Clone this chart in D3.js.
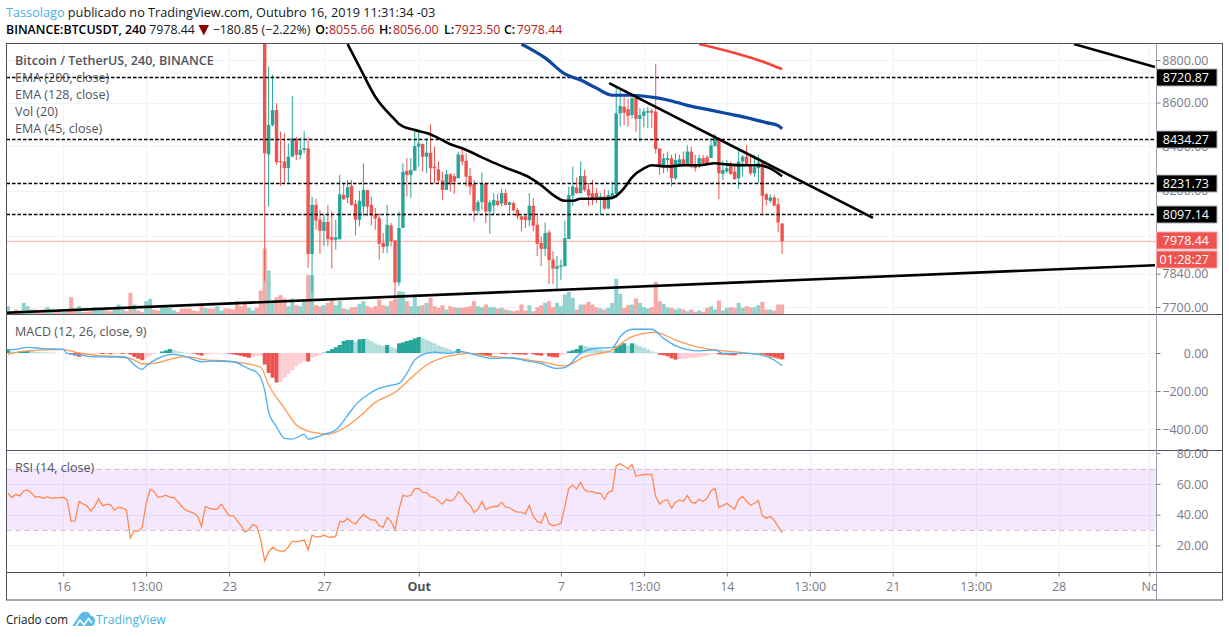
<!DOCTYPE html>
<html><head><meta charset="utf-8">
<script src="https://cdn.jsdelivr.net/npm/d3@7/dist/d3.min.js"></script>
<style>
html,body{margin:0;padding:0;background:#fff;}
svg{display:block;}
text{font-family:"Open Sans","Noto Sans",sans-serif;}
</style></head><body>
<svg id="c" width="1229" height="637"></svg>
<script>
// ---------- DATA ----------
const opens=[9700,8362,8495,8565,8331,8330,8301,8352,8435,8360,8382,8390,7924,8137,8072,8024,8062,7996,7985,7988,8181,8169,8221,8142,8072,8130,8203,8137,8094,8079,7971,7957,8047,7982,7803,8036,8288,8270,8289,8397,8409,8352,8370,8307,8295,8245,8203,8273,8265,8255,8360,8333,8265,8230,8111,8149,8233,8108,8134,8155,8143,8189,8137,8145,8115,8087,8087,8070,8133,8050,7971,7946,8017,7900,7861,7869,7872,7988,8178,8214,8189,8265,8206,8189,8189,8162,8174,8121,8174,8186,8550,8581,8569,8542,8620,8524,8539,8553,8561,8558,8389,8307,8337,8345,8255,8315,8340,8315,8375,8319,8307,8345,8349,8346,8400,8435,8274,8285,8315,8285,8255,8330,8352,8319,8277,8300,8325,8184,8155,8170,8140,8055.66];
const closes=[8367,8496,8565,8327,8327,8301,8352,8435,8360,8382,8390,7924,8137,8068,8024,8062,7988,7985,7996,8184,8162,8215,8137,8072,8155,8203,8130,8091,8077,7968,7954,8050,7978,7803,8036,8284,8270,8292,8400,8412,8352,8370,8300,8300,8245,8203,8273,8228,8240,8362,8330,8262,8218,8111,8149,8230,8108,8148,8159,8137,8189,8137,8148,8113,8087,8072,8070,8133,8046,7968,7946,8014,7898,7861,7872,7875,7992,8181,8218,8189,8265,8203,8177,8162,8162,8174,8121,8181,8189,8550,8584,8553,8538,8620,8524,8542,8558,8561,8553,8386,8315,8345,8345,8255,8337,8340,8310,8375,8307,8300,8345,8322,8322,8403,8439,8277,8292,8300,8274,8251,8330,8352,8319,8277,8304,8325,8177,8159,8170,8134,8060,7978.44];
const highs=[9750,8769,8729,8597,8465,8458,8412,8631,8442,8439,8468,8439,8173,8163,8115,8094,8137,8108,8072,8270,8233,8248,8248,8159,8200,8322,8203,8173,8123,8101,8014,8137,8058,7985,8108,8322,8345,8345,8476,8473,8412,8435,8499,8397,8330,8285,8292,8277,8277,8375,8392,8367,8300,8248,8159,8280,8236,8159,8189,8186,8208,8206,8152,8152,8123,8094,8094,8189,8167,8087,7999,8060,8028,7936,7915,7900,8068,8218,8307,8259,8330,8292,8233,8248,8211,8189,8206,8203,8240,8674,8659,8627,8620,8627,8627,8573,8573,8581,8573,8782,8389,8367,8375,8360,8367,8360,8375,8404,8397,8360,8360,8360,8360,8435,8455,8439,8334,8337,8330,8315,8389,8360,8404,8360,8360,8360,8337,8189,8184,8181,8167,8056];
const lows=[7810,8130,8490,8315,8221,8236,8236,8350,8337,8340,8367,7865,7761,8028,7924,7957,7957,7862,7943,7985,8159,8145,8133,8004,8043,8087,8087,8047,8028,7900,7928,7928,7957,7727,7789,8036,8174,8167,8289,8307,8285,8277,8233,8233,8233,8159,8203,8196,8186,8255,8315,8218,8181,8065,8094,8115,8057,8011,8094,8130,8130,8135,8101,8108,8075,8021,8036,8043,8021,7915,7872,7915,7796,7796,7775,7814,7872,7988,8133,8186,8186,8196,8133,8137,8145,8094,8115,8118,8167,8167,8489,8496,8489,8527,8465,8420,8485,8481,8481,8367,8270,8277,8285,8218,8248,8307,8307,8307,8300,8285,8300,8319,8319,8346,8400,8162,8248,8277,8270,8248,8208,8262,8315,8270,8262,8233,8098,8134,8145,8130,8017,7923.5];

// Volume (hundreds) before the first on-screen candle, with 1 = up bar
const firstBar=-65;
const volumePre=[25,10,15,12,35,25,15,15,12,15,22,15,10,15,8,10,52,15,25,8,8,10,22,18,15,12,10,18,30,15,10,65,30,12,8,40,47,15,12,22,28,20,12,8,18,18,18,12,10,25,20,18,18,25,12,18,18,15,40,25,35,20,12,20,72];
const volumePreUp=[1,0,0,0,1,1,1,0,0,0,1,1,0,0,1,0,0,0,1,0,0,0,1,1,1,0,0,1,1,1,0,0,1,0,0,1,1,0,0,1,1,1,1,0,0,0,0,0,0,0,1,0,0,1,1,0,0,0,0,0,0,1,1,0,0];
const volumePost=[198,132,42,52,58,48,25,48,28,25,45,118,118,28,25,28,35,48,28,40,18,15,22,22,32,40,25,20,25,45,28,25,40,45,70,68,40,25,60,25,28,35,50,25,20,28,15,25,22,20,20,22,25,40,25,22,30,22,22,18,20,15,12,10,12,30,12,28,10,22,28,35,40,22,35,25,60,68,50,15,30,30,38,30,22,18,15,20,35,107,62,20,28,30,48,35,22,18,22,98,40,32,22,20,15,18,15,10,15,8,12,8,20,25,15,42,12,20,22,20,35,20,25,22,22,28,38,15,15,12,30,30];

const ema45Bars=[21,24,28,33,34,38,41,44,47,50,55,59,62,67,70,73,76,78,80,85,88,91,93,96,98,102,106,110,114,117,122,125,128,131];
const ema45Vals=[8876,8767,8627,8520,8501,8473,8459,8436,8408,8390,8349,8317,8295,8259,8224,8181,8155,8155,8164,8164,8168,8211,8259,8299,8313,8308,8313,8313,8322,8317,8313,8313,8299,8264];
const ema128Bars=[65,71,76,80,84,88,93,98,102,107,112,117,122,127,130,131];
const ema128Vals=[8876,8810,8734,8705,8667,8634,8634,8625,8612,8587,8568,8549,8530,8507,8493,8479];
const ema200Bars=[110,119,127,131];
const ema200Vals=[8876,8833,8786,8757];

const hLevels=[8720.87,8434.27,8231.73,8097.14];
const lastPrice=7978.44;
const countdown="01:28:27";
const trendLines=[[[-65.5,7676],[225.4,7876]],[[204.9,8876],[225.4,8767]],[[87.2,8691],[154,8080]]];

const macdBars=[-65,-63,-60,-56,-51,-50,-47,-44,-38,-35,-33,-31,-30,-27,-23,-20,-16,-13,-8,-4,-2,0,1,3,5,7,10,11,15,18,22,23,26,28,31,34,36,38,41,43,47,49,52,55,58,62,66,70,74,76,80,84,88,90,93,98,101,104,110,114,116,122,125,129,131];
const macdVals=[16,19,30,23,19,-2,-10,-19,-21,-25,-63,-86,-68,-28,-7,-19,-46,-42,-46,-84,-102,-195,-309,-388,-449,-453,-428,-453,-428,-405,-300,-274,-221,-195,-174,-160,-107,-37,-2,4,-2,10,-2,-19,-28,-25,-40,-56,-81,-77,-2,25,28,86,125,125,77,39,11,16,-2,-2,-7,-37,-67];
const signalBars=[-65,-61,-51,-48,-42,-36,-33,-31,-27,-23,-20,-16,-8,-1,1,5,8,12,16,20,24,28,33,37,41,46,52,58,64,71,76,81,88,93,99,104,110,114,121,125,131];
const signalVals=[-7,10,19,4,-14,-19,-37,-58,-51,-28,-19,-33,-46,-75,-168,-291,-379,-417,-428,-396,-335,-260,-207,-133,-63,-19,-2,-19,-28,-51,-68,-19,16,86,109,68,30,16,2,-7,-33];
const macdHist=[20,8,6,8,10,12,10,6,5,4,3,2,1,0,0,-1,-8,-14,-20,-16,-10,-6,-5,-4,-6,-3,-6,-5,-4,-5,-3,-8,-20,-30,-38,-25,-15,-5,0,8,14,21,14,9,5,2,-1,-3,-8,-14,-8,-6,-5,-4,-3,-2,-4,-7,-11,-15,-20,-25,-20,-15,-14,
-60,-105,-130,-155,-150,-130,-110,-90,-70,-55,-40,-45,-25,-18,-10,2,10,20,30,42,63,68,68,60,72,74,72,63,51,42,38,42,32,25,51,56,63,68,77,84,77,68,60,51,39,32,25,18,11,21,11,5,0,-7,-7,-12,-14,-14,-7,-5,-5,-7,-5,-5,-7,-7,-9,-5,-7,-12,-14,-5,-18,-22,-23,-12,-5,9,14,21,40,37,32,28,25,18,14,12,9,35,42,51,40,51,44,35,28,18,9,3,-9,-12,-18,-28,-35,-32,-30,-28,-26,-25,-20,-18,-14,-7,-3,-7,-9,-9,-12,-12,-7,-5,-4,-3,-3,-3,-7,-12,-16,-21,-26,-33];
const rsiVals=[53.9,51.1,53.2,52.2,55.4,56,53.9,51.3,51.7,50.4,51.7,50.6,51.1,51.1,51.3,49.6,35.6,36,48.5,47,45.7,42.3,45.7,50.4,45.7,46.8,46.3,42.9,44.8,44.2,43.1,24.8,29.6,29.1,31.9,47.4,56.5,54.9,51.3,51.7,52.6,51.3,51.1,48.5,45.3,42.9,42,41,39.2,32.4,45.3,44,43.5,43.5,46.8,43.1,39.2,39.5,36.2,32.8,28.7,30.2,33.7,32.4,23.8,10,15.8,18.8,17.1,16.2,16.2,19,22.7,22.3,22.9,23.5,17.1,26.6,25.5,25.5,26.6,25.5,25.3,26.1,35.6,35.2,37.5,35.2,33.9,37.3,40.1,38.2,36.5,36.5,32.8,31.9,38.2,35.6,30.2,43.1,52.6,51.9,52.6,
56.9,57.1,54.5,54.3,51.7,51.1,48.9,46.8,50,48.9,50,54.9,52.8,48.5,46.3,41.4,43.5,48.5,43.1,44.8,45.3,45.3,48.1,44.8,44.6,42.7,41.6,41.6,40.5,45.9,38.8,35.6,34.5,41,34.1,32.8,33.4,34.3,45.3,57.1,59.2,56.7,61,56,54.9,54.9,53.9,53.9,50,54.5,55.4,71.7,73.2,71.5,70,72.6,65.1,65.5,66.1,66.1,66.1,51.7,46.8,49.1,49.6,44.2,48.1,49.6,48.5,52.4,48.1,47.4,50,48.5,50.6,55.6,57.1,44.8,45.9,47.4,45.3,43.5,50,51.7,48.9,46.1,47.4,49.1,39.2,37.7,38.8,36.2,32.4,28.1];

const timeTickBars=[-51,-30,-9,15,39,75,96,117,138,159,180,201,224];
const timeTickLabels=["16","13:00","23","27","Out","7","13:00","14","13:00","21","13:00","28","No"];
const priceTicks=[8800,8600,8400,8200,8000,7840,7700];
const priceTickLabelled=[8800,8600,8400,8200,7840,7700];
const macdTicks=[0,-200,-400];
const rsiGridTicks=[80,60,40,20];
const rsiBand=[30,70];

const legendMain=["EMA (200, close)","EMA (128, close)","Vol (20)","EMA (45, close)"];
const ohlcLabels=["O:","H:","L:","C:"];
const ohlcValues=["8055.66","8056.00","7923.50","7978.44"];

// ---------- LAYOUT ----------
const L=6.5,R=1156.5,OUT=1222.5,T=43.5,B1=314.5,B2=450.5,B3=572.5,B4=600;
const GREEN="#26a69a",RED="#ef5350",GRID="#eff3f7",AXIS="#50535e",TXT="#787b86";

const svg=d3.select("#c");
const defs=svg.append("defs");
function clip(id,x0,y0,x1,y1){defs.append("clipPath").attr("id",id).append("rect").attr("x",x0).attr("y",y0).attr("width",x1-x0).attr("height",y1-y0);}
clip("cMain",L,T,R,B1);clip("cMacd",L,B1,R,B2);clip("cRsi",L,B2,R,B3);

const x=d3.scaleLinear().domain([0,131]).range([264.67,782.1]);
const yP=d3.scaleLog().domain([8800,7700]).range([60,307]);
const yV=d3.scaleLinear().domain([0,300]).range([B1,214.5]);
const yM=d3.scaleLinear().domain([0,-400]).range([353,429]);
const yR=d3.scaleLinear().domain([70,30]).range([468.5,530]);
const bars=d3.range(opens.length);

// vertical grid
svg.append("g").selectAll("line").data(timeTickBars).join("line")
   .attr("x1",d=>Math.round(x(d))+.5).attr("x2",d=>Math.round(x(d))+.5).attr("y1",T).attr("y2",B3)
   .attr("stroke",GRID).attr("stroke-width",1);
// horizontal grids
function hgrid(vals,sc,stroke){svg.append("g").selectAll("line").data(vals).join("line")
  .attr("x1",L).attr("x2",R).attr("y1",d=>Math.round(sc(d))+.5).attr("y2",d=>Math.round(sc(d))+.5)
  .attr("stroke",stroke||GRID);}
hgrid(priceTicks,yP);hgrid(macdTicks,yM);

// ---------- RSI ----------
const gR=svg.append("g").attr("clip-path","url(#cRsi)");
gR.append("rect").attr("x",L).attr("width",R-L).attr("y",yR(rsiBand[1])).attr("height",yR(rsiBand[0])-yR(rsiBand[1])).attr("fill","#f5e7fd");
gR.selectAll(".g").data(rsiGridTicks).join("line").attr("x1",L).attr("x2",R)
  .attr("y1",d=>Math.round(yR(d))+.5).attr("y2",d=>Math.round(yR(d))+.5).attr("stroke",d=>(d>=30&&d<=70)?"#e2dbf5":GRID);
gR.selectAll("line.v").data(timeTickBars).join("line").attr("class","v")
  .attr("x1",d=>Math.round(x(d))+.5).attr("x2",d=>Math.round(x(d))+.5).attr("y1",yR(70)).attr("y2",yR(30)).attr("stroke","#e5dff6");
gR.selectAll("line.b").data(rsiBand).join("line").attr("class","b").attr("x1",L).attr("x2",R)
  .attr("y1",d=>Math.round(yR(d))+.5).attr("y2",d=>Math.round(yR(d))+.5)
  .attr("stroke","#c9c0cf").attr("stroke-dasharray","5,4");
gR.append("path").attr("fill","none").attr("stroke","#ff8a50").attr("stroke-width",1.3)
  .attr("d",d3.line().x((d,i)=>x(firstBar+i)).y(d=>yR(d))(rsiVals));

// ---------- MACD ----------
const gM=svg.append("g").attr("clip-path","url(#cMacd)");
const hw=3.95;
gM.selectAll("rect").data(macdHist).join("rect")
  .attr("x",(d,i)=>x(firstBar+i)-hw/2).attr("width",hw+.2)
  .attr("y",d=>Math.min(yM(d),yM(0))).attr("height",d=>Math.abs(yM(d)-yM(0)))
  .attr("fill",(d,i)=>{const p=i?macdHist[i-1]:0;return d>=0?(d>=p?GREEN:"#b2dfdb"):(d<=p?RED:"#ffcdd2");});
function series(g,bs,vs,xs,ys,col,w){g.append("path").attr("fill","none").attr("stroke",col).attr("stroke-width",w).attr("stroke-linejoin","round")
  .attr("d",d3.line().curve(d3.curveMonotoneX).x(d=>xs(d[0])).y(d=>ys(d[1]))(bs.map((b,i)=>[b,vs[i]])));}
series(gM,signalBars,signalVals,x,yM,"#ff9850",1.3);
series(gM,macdBars,macdVals,x,yM,"#4aaef5",1.3);

// ---------- MAIN ----------
const gP=svg.append("g").attr("clip-path","url(#cMain)");
const volAll=volumePre.concat(volumePost);
const upAll=volumePreUp.concat(bars.map(i=>closes[i]>=opens[i]?1:0));
gP.append("g").selectAll("rect").data(volAll).join("rect")
  .attr("x",(d,i)=>x(firstBar+i)-hw/2).attr("width",hw+.1)
  .attr("y",d=>yV(d)).attr("height",d=>yV(0)-yV(d))
  .attr("fill",(d,i)=>upAll[i]?"#92d2cc":"#f7a9a7");
const gC=gP.append("g");
gC.selectAll("line").data(bars).join("line")
  .attr("x1",i=>x(i)).attr("x2",i=>x(i)).attr("y1",i=>yP(highs[i])).attr("y2",i=>yP(lows[i]))
  .attr("stroke",i=>closes[i]>=opens[i]?GREEN:RED).attr("stroke-width",1);
gC.selectAll("rect").data(bars).join("rect")
  .attr("x",i=>x(i)-1.7).attr("width",3.4)
  .attr("y",i=>yP(Math.max(opens[i],closes[i])))
  .attr("height",i=>Math.max(1,Math.abs(yP(opens[i])-yP(closes[i]))))
  .attr("fill",i=>closes[i]>=opens[i]?GREEN:RED);

gP.append("line").attr("x1",L).attr("x2",R).attr("y1",yP(lastPrice)).attr("y2",yP(lastPrice))
  .attr("stroke",RED).attr("stroke-dasharray","1,1");
gP.selectAll("line.h").data(hLevels).join("line").attr("class","h").attr("x1",L).attr("x2",R)
  .attr("y1",d=>Math.round(yP(d))+.5).attr("y2",d=>Math.round(yP(d))+.5)
  .attr("stroke","#000").attr("stroke-width",1.7).attr("stroke-dasharray","3.5,2");

series(gP,ema200Bars,ema200Vals,x,yP,"#f44336",2.6);
series(gP,ema128Bars,ema128Vals,x,yP,"#0d47a1",3.2);
series(gP,ema45Bars,ema45Vals,x,yP,"#000",2.6);
trendLines.forEach(t=>{gP.append("line").attr("x1",x(t[0][0])).attr("y1",yP(t[0][1])).attr("x2",x(t[1][0])).attr("y2",yP(t[1][1]))
  .attr("stroke","#000").attr("stroke-width",2.6);});

// ---------- BORDERS ----------
const bord=svg.append("g").attr("stroke",AXIS).attr("fill","none");
bord.append("rect").attr("x",L).attr("y",T).attr("width",OUT-L).attr("height",B4-T);
[B1,B2,B3].forEach(v=>bord.append("line").attr("x1",L).attr("x2",OUT).attr("y1",v).attr("y2",v));
bord.append("line").attr("x1",R).attr("x2",R).attr("y1",T).attr("y2",B4).attr("stroke","#9aa0ad");

// ---------- AXES ----------
function styleAxis(g){g.select(".domain").remove();
  g.selectAll("line").attr("stroke","#787b86");
  g.selectAll("text").attr("fill",TXT).attr("font-size",12.5);}
function rightAxis(sc,vals,fmt){const g=svg.append("g").attr("transform",`translate(${R},0)`)
  .call(d3.axisRight(sc).tickValues(vals).tickSize(4).tickFormat(fmt));
  styleAxis(g);g.selectAll("text").attr("text-anchor","end").attr("x",52).attr("dy","0.34em");return g;}
const f2=d=>d3.format(".2f")(d).replace("-","\u2212");
rightAxis(yP,priceTickLabelled,f2);
rightAxis(yM,macdTicks,f2);
rightAxis(yR,rsiGridTicks,f2);
defs.append("clipPath").attr("id","cTimeAxis").append("rect").attr("x",L).attr("y",0).attr("width",R-L).attr("height",B4-B3);
const tA=svg.append("g").attr("transform",`translate(0,${B3})`).attr("clip-path","url(#cTimeAxis)");
tA.call(d3.axisBottom(x).tickValues(timeTickBars).tickSize(4).tickPadding(6).tickFormat((d,i)=>timeTickLabels[i]));
styleAxis(tA);
tA.selectAll("text").attr("font-weight",(d,i)=>timeTickLabels[i]==="Out"?"700":"400").attr("fill",(d,i)=>timeTickLabels[i]==="Out"?"#50535e":TXT);

// ---------- PRICE LABELS ----------
function pill(yc,txt,fill,stroke){
  const g=svg.append("g");
  g.append("rect").attr("x",R).attr("y",yc-8.5).attr("width",60.5).attr("height",17).attr("fill",fill).attr("stroke",stroke).attr("stroke-width",1);
  g.append("text").attr("x",1209).attr("y",yc+4.3).attr("text-anchor","end").attr("fill","#fff").attr("font-size",12.5).text(txt);
}
hLevels.forEach(v=>pill(Math.round(yP(v))+.5,d3.format(".2f")(v),"#000","#aeb1b8"));
pill(240.5,d3.format(".2f")(lastPrice),RED,"#f6a6a4");
pill(259.5,countdown,RED,"#f6a6a4");

// ---------- LEGENDS ----------
const txt=(x0,y0,s,o={})=>svg.append("text").attr("x",x0).attr("y",y0).attr("font-size",o.size||12.5)
  .attr("font-weight",o.w||400).attr("fill",o.c||"#50535e").text(s);
txt(15,64.5,"Bitcoin / TetherUS, 240, BINANCE",{w:600});
legendMain.forEach((s,i)=>txt(15,81.5+17*i,s));
txt(15,335.5,"MACD (12, 26, close, 9)");
txt(15,471.5,"RSI (14, close)");

// ---------- HEADER ----------
const h1=svg.append("text").attr("x",6).attr("y",17).attr("font-size",12.7).attr("fill","#131722");
h1.append("tspan").attr("fill","#45b3e7").text("Tassolago");
h1.append("tspan").text(" publicado no TradingView.com, Outubro 16, 2019 11:31:34 -03");
const hs=12.35,hy=34,hc="#131722";
txt(6,hy,"BINANCE:BTCUSDT, 240",{w:600,size:hs,c:"#000"});
txt(149.3,hy,"7978.44",{size:hs,c:hc});
svg.append("path").attr("d","M198.5 25 L209 25 L203.8 35.5 Z").attr("fill","#8b0000");
txt(212.7,hy,"\u2212180.85 (\u22122.22%)",{size:hs,c:hc});
const ohlcX=[315.3,379,444,504],ohlcVX=[329,393,454.7,516.7];
ohlcLabels.forEach((s,i)=>{
  txt(ohlcX[i],hy,s,{w:600,size:hs,c:"#000"});
  txt(ohlcVX[i],hy,ohlcValues[i],{size:hs,c:"#b71c1c"});
});

// ---------- FOOTER ----------
txt(6,624,"Criado com",{c:"#131722",size:12.5}).attr("textLength",62).attr("lengthAdjust","spacingAndGlyphs");
svg.append("path").attr("d","M72.3 626 L79 616 Q81 611.7 85.5 611.7 Q89.5 611.7 90.5 615.5 Q95 616.5 95 621 Q95 626 91 626 Z").attr("fill","#5cb9e8");
svg.append("path").attr("d","M76 626 L80 620 L84 625 L88.5 618.5 L92 623").attr("fill","none").attr("stroke","#fff").attr("stroke-width",1.6);
txt(96,624,"TradingView",{c:"#45b3e7",size:12.2});
</script>
</body></html>
